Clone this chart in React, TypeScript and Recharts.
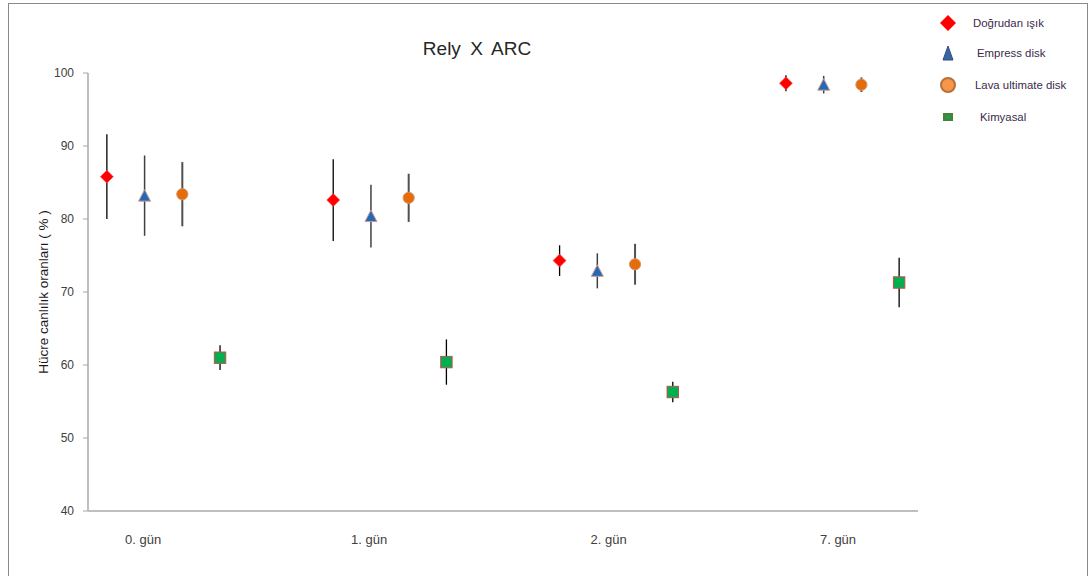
import React from 'react';
import { ScatterChart, Scatter, XAxis, YAxis, ErrorBar, Legend } from 'recharts';

// gün kategorileri ve x ekseni etiket konumları
const dayLabels = ['0. gün', '1. gün', '2. gün', '7. gün'];
const dayLabelPos = [1.46, 7.45, 13.8, 19.88];
const groupBase = [0, 6, 12, 18];
const yTicks = [40, 50, 60, 70, 80, 90, 100];

const seriesNames = ['Doğrudan ışık', 'Empress disk', 'Lava ultimate disk', 'Kimyasal'];
const seriesOffset = [0.5, 1.5, 2.5, 3.5];

const dogrudanIsik = [85.8, 82.6, 74.3, 98.6];
const dogrudanIsikErr = [5.8, 5.6, 2.1, 1.1];
const empressDisk = [83.2, 80.4, 72.9, 98.4];
const empressDiskErr = [5.5, 4.3, 2.4, 1.2];
const lavaDisk = [83.4, 82.9, 73.8, 98.4];
const lavaDiskErr = [4.4, 3.3, 2.8, 1.0];
const kimyasal = [61.0, 60.4, 56.3, 71.3];
const kimyasalErr = [1.7, 3.1, 1.4, 3.4];

const build = (values: number[], errs: number[], s: number) =>
  values.map((v, i) => ({ x: groupBase[i] + seriesOffset[s], y: v, err: errs[i] }));

const Diamond = ({ cx, cy }: any) => (
  <path d={`M${cx},${cy - 6.5}L${cx + 6.5},${cy}L${cx},${cy + 6.5}L${cx - 6.5},${cy}Z`} fill="#ff0000" stroke="#ff5050" strokeWidth={0.6} />
);
const Triangle = ({ cx, cy }: any) => (
  <path d={`M${cx},${cy - 6}L${cx + 6},${cy + 5.5}L${cx - 6},${cy + 5.5}Z`} fill="#1f6bb5" stroke="#d99694" strokeWidth={1} />
);
const Circle = ({ cx, cy }: any) => (
  <circle cx={cx} cy={cy} r={5.6} fill="#e46c0a" stroke="#d9956a" strokeWidth={1} />
);
const Square = ({ cx, cy }: any) => (
  <rect x={cx - 5.7} y={cy - 5.7} width={11.4} height={11.4} fill="#00b050" stroke="#c0504d" strokeWidth={1} />
);
const NoMark = () => <g />;

const LegendIcon = ({ i }: { i: number }) => {
  if (i === 0) return <path d="M0,-8L8,0L0,8L-8,0Z" fill="#ff0000" />;
  if (i === 1) return <path d="M0,-7L5,7L-5,7Z" fill="#3b64a0" stroke="#2e4f80" strokeWidth={1} />;
  if (i === 2) return <circle r={7} fill="#f79646" stroke="#b8703a" strokeWidth={2} />;
  return (
    <g>
      <rect x={-5} y={-4} width={10} height={8} fill="#4f7d3a" />
      <rect x={-2.5} y={-1.5} width={5} height={3} fill="#00b050" />
    </g>
  );
};

const legendTextX = [43, 47, 45, 50];
const legendRowY = [23, 53, 85, 117];

const renderLegend = () => (
  <svg width={160} height={135} style={{ overflow: 'visible' }}>
    {seriesNames.map((name, i) => (
      <g key={name}>
        <g transform={`translate(18,${legendRowY[i]})`}>
          <LegendIcon i={i} />
        </g>
        <text x={legendTextX[i]} y={legendRowY[i] + 4} fontSize={11.4} fill="#3b2a4a">
          {name}
        </text>
      </g>
    ))}
  </svg>
);

const series = [
  { data: build(dogrudanIsik, dogrudanIsikErr, 0), shape: Diamond, bar: '#000000', bw: 1.3 },
  { data: build(empressDisk, empressDiskErr, 1), shape: Triangle, bar: '#404040', bw: 1.5 },
  { data: build(lavaDisk, lavaDiskErr, 2), shape: Circle, bar: '#505050', bw: 2 },
  { data: build(kimyasal, kimyasalErr, 3), shape: Square, bar: '#000000', bw: 1.3 },
];

export default function App() {
  return (
    <div style={{ position: 'absolute', left: 0, top: 0, width: 1089, height: 576, background: '#fff', fontFamily: '"Liberation Sans", Arial, sans-serif' }}>
      <div style={{ position: 'absolute', left: 8, top: 3, width: 1080, height: 573, boxSizing: 'border-box', borderTop: '1px solid #8a8a8a', borderLeft: '1px solid #8a8a8a', borderRight: '1px solid #8a8a8a' }} />
      <div style={{ position: 'absolute', left: 377, width: 200, top: 38, textAlign: 'center', fontSize: 19, color: '#262626', wordSpacing: 4 }}>
        Rely X ARC
      </div>
      <ScatterChart width={1089} height={576} margin={{ top: 73, right: 171, bottom: 35, left: 0 }}>
        <XAxis
          type="number"
          dataKey="x"
          domain={[0, 22]}
          ticks={dayLabelPos}
          tickFormatter={(_v: number, i: number) => dayLabels[i]}
          axisLine={{ stroke: '#bfbfbf', strokeWidth: 2 }}
          tickLine={false}
          tickSize={0}
          tickMargin={24}
          height={30}
          interval={0}
          tick={{ fill: '#404040', fontSize: 13 }}
        />
        <YAxis
          type="number"
          dataKey="y"
          domain={[40, 100]}
          ticks={yTicks}
          width={88}
          axisLine={{ stroke: '#bfbfbf', strokeWidth: 2 }}
          tickLine={{ stroke: '#a6a6a6' }}
          tickSize={5}
          tickMargin={9}
          interval={0}
          tick={{ fill: '#404040', fontSize: 12 }}
          label={{ value: 'Hücre canlılık  oranları ( % )', angle: -90, position: 'center', fill: '#1a1a1a', fontSize: 13.5, dx: -1 }}
        />
        <Legend
          layout="vertical"
          align="right"
          verticalAlign="top"
          content={renderLegend}
          wrapperStyle={{ left: 930, top: 0, width: 0, height: 0, overflow: 'visible' }}
        />
        {/* hata çubukları önce, işaretler üstte kalsın */}
        {series.map((s, i) => (
          <Scatter key={`err-${i}`} name={`${seriesNames[i]} err`} data={s.data} shape={NoMark} legendType="none" isAnimationActive={false}>
            <ErrorBar dataKey="err" direction="y" width={0} stroke={s.bar} strokeWidth={s.bw} />
          </Scatter>
        ))}
        {series.map((s, i) => (
          <Scatter key={`pt-${i}`} name={seriesNames[i]} data={s.data} shape={s.shape} isAnimationActive={false} />
        ))}
      </ScatterChart>
    </div>
  );
}
